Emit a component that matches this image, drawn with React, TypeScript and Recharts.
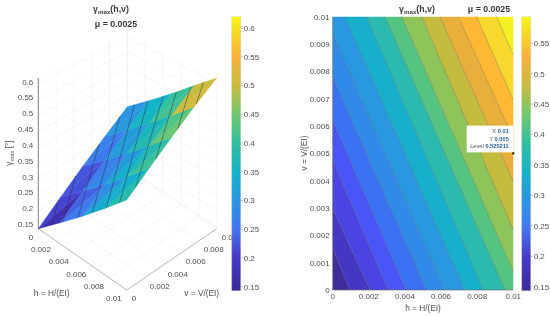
// @ts-nocheck
import { Area, Bar, BarChart, ComposedChart, Line, ReferenceDot, Scatter, XAxis, YAxis } from 'recharts';

const PARULA_FRACS = [0, 0.12, 0.224, 0.329, 0.434, 0.539, 0.644, 0.748, 0.853, 0.958, 1];
const PARULA_COLORS = ['#3a2a98', '#4638c8', '#4274f0', '#2b94e2', '#12b3c8', '#30bea0', '#70c870', '#c8bc40', '#f8b03c', '#f8e020', '#f8fa14'];

const LEFT_BAR_DOMAIN = [0.143, 0.62];
const LEFT_BAR_TICKS = [0.15, 0.2, 0.25, 0.3, 0.35, 0.4, 0.45, 0.5, 0.55, 0.6];
const RIGHT_BAR_DOMAIN = [0.1434, 0.5937];
const RIGHT_BAR_TICKS = [0.15, 0.2, 0.25, 0.3, 0.35, 0.4, 0.45, 0.5, 0.55];

const H_TICKS = [0, 0.002, 0.004, 0.006, 0.008, 0.01];
const V_TICKS = [0, 0.001, 0.002, 0.003, 0.004, 0.005, 0.006, 0.007, 0.008, 0.009, 0.01];
const Z_TICKS = [0.15, 0.2, 0.25, 0.3, 0.35, 0.4, 0.45, 0.5, 0.55, 0.6];

// contour lines of the right panel, each through (h0,v0) and (h1,v1)
const CONTOUR_H0 = [0, 0, 0, 0, 0, 0, 0.00068, 0.00188, 0.0029, 0.00382, 0.00493, 0.00594, 0.00696, 0.00797, 0.00908];
const CONTOUR_V0 = [0.00152, 0.00299, 0.00476, 0.00622, 0.0078, 0.00939, 0.01, 0.01, 0.01, 0.01, 0.01, 0.01, 0.01, 0.01, 0.01];
const CONTOUR_H1 = [0.00096, 0.00207, 0.00308, 0.00408, 0.0052, 0.0062, 0.00732, 0.00834, 0.00954, 0.01, 0.01, 0.01, 0.01, 0.01, 0.01];
const CONTOUR_V1 = [0, 0, 0, 0, 0, 0, 0, 0, 0, 0.00067, 0.0022, 0.00396, 0.00555, 0.00695, 0.0086];
const BAND_COLORS = ['#3f2d9e', '#4537c4', '#4a44e2', '#4756f5', '#3a72f4', '#2f8ae8', '#2a98e0', '#16b0cc', '#2dbaae', '#55c480', '#8ec45a', '#c5bb3e', '#e8b03a', '#fdb934', '#f7d82c', '#f5f020'];

// surface of the left panel, rows are v = 0..0.01, columns h = 0..0.01
const MESH_H = [0, 0.0025, 0.005, 0.0075, 0.01];
const MESH_V = [0, 0.0025, 0.005, 0.0075, 0.01];
const GAMMA_ROWS = [
  [0.144, 0.21, 0.275, 0.341, 0.407],
  [0.198, 0.264, 0.329, 0.395, 0.461],
  [0.253, 0.318, 0.384, 0.45, 0.515],
  [0.307, 0.373, 0.438, 0.504, 0.569],
  [0.361, 0.427, 0.492, 0.558, 0.62],
];
// flat colour value of each cell's two triangles
const LOWER_TRI_COLOR = [
  [0.17, 0.26, 0.335, 0.385],
  [0.22, 0.285, 0.345, 0.41],
  [0.26, 0.315, 0.38, 0.445],
  [0.31, 0.36, 0.415, 0.51],
];
const UPPER_TRI_COLOR = [
  [0.21, 0.235, 0.295, 0.345],
  [0.225, 0.265, 0.315, 0.38],
  [0.27, 0.315, 0.365, 0.425],
  [0.3, 0.35, 0.405, 0.5],
];
const SURF_LINE_H0 = [0, 0, 0, 0, 0.0008, 0.0023, 0.004, 0.0055, 0.0071, 0.0085];
const SURF_LINE_V0 = [0.0023, 0.0042, 0.0068, 0.0092, 0.01, 0.01, 0.01, 0.01, 0.01, 0.01];
const SURF_LINE_H1 = [0.0015, 0.0028, 0.0045, 0.0061, 0.0077, 0.0092, 0.01, 0.01, 0.01, 0.01];
const SURF_LINE_V1 = [0, 0, 0, 0, 0, 0, 0.001, 0.00325, 0.00565, 0.00775];

const FONT = '"Liberation Sans", Arial, sans-serif';
const TEXT = '#505050';
const FS = 8;

const hexToRgb = (hex: string) => [1, 3, 5].map((i) => parseInt(hex.slice(i, i + 2), 16));

function parula(frac: number) {
  const t = Math.min(1, Math.max(0, frac));
  let i = 0;
  while (i < PARULA_FRACS.length - 2 && t > PARULA_FRACS[i + 1]) i++;
  const k = (t - PARULA_FRACS[i]) / (PARULA_FRACS[i + 1] - PARULA_FRACS[i]);
  const a = hexToRgb(PARULA_COLORS[i]);
  const b = hexToRgb(PARULA_COLORS[i + 1]);
  return `rgb(${a.map((c, n) => Math.round(c + (b[n] - c) * k)).join(',')})`;
}

// 3d view of the left panel, slightly in perspective
const FLOOR_X = [38.3, 126.7, 216.7, 127.3];
const FLOOR_Y = [228.7, 290, 228.7, 170];
const DEPTH = [1, 1.08, 1, 0.92];
const Z_BASE = 0.144;
const Z_TOP = 0.62;
const Z_PX = 316.7;

function project(h: number, v: number, g: number) {
  const u = h / 0.01;
  const w = v / 0.01;
  const mix = (c: number[]) => c[0] * (1 - u) * (1 - w) + c[1] * u * (1 - w) + c[2] * u * w + c[3] * (1 - u) * w;
  return { x: mix(FLOOR_X), y: mix(FLOOR_Y) - (g - Z_BASE) * Z_PX * mix(DEPTH) };
}

function gammaAt(h: number, v: number) {
  const i = Math.min(3, Math.floor(h / 0.0025 + 1e-9));
  const j = Math.min(3, Math.floor(v / 0.0025 + 1e-9));
  const s = h / 0.0025 - i;
  const t = v / 0.0025 - j;
  return (
    GAMMA_ROWS[j][i] * (1 - s) * (1 - t) +
    GAMMA_ROWS[j][i + 1] * s * (1 - t) +
    GAMMA_ROWS[j + 1][i + 1] * s * t +
    GAMMA_ROWS[j + 1][i] * (1 - s) * t
  );
}

// one triangle as a range area: upper and lower chains over x
function triangleData(pts: { x: number; y: number }[]) {
  const [a, b, c] = [...pts].sort((p, q) => p.x - q.x);
  const k = (b.x - a.x) / (c.x - a.x);
  const mid = a.y + (c.y - a.y) * k;
  return [
    { x: a.x, range: [a.y, a.y] },
    { x: b.x, range: [b.y, mid] },
    { x: c.x, range: [c.y, c.y] },
  ];
}

const barColor = (g: number) => parula((g - LEFT_BAR_DOMAIN[0]) / (LEFT_BAR_DOMAIN[1] - LEFT_BAR_DOMAIN[0]));

const facets: { data: any[]; color: string }[] = [];
for (let j = 0; j < 4; j++) {
  for (let i = 0; i < 4; i++) {
    const p = (a: number, b: number) => project(MESH_H[a], MESH_V[b], GAMMA_ROWS[b][a]);
    facets.push({ data: triangleData([p(i, j), p(i + 1, j), p(i + 1, j + 1)]), color: barColor(LOWER_TRI_COLOR[j][i]) });
    facets.push({ data: triangleData([p(i, j), p(i + 1, j + 1), p(i, j + 1)]), color: barColor(UPPER_TRI_COLOR[j][i]) });
  }
}

const gridSegments: { x: number; y: number }[][] = [];
const seg = (a: number[], b: number[]) => gridSegments.push([project(a[0], a[1], a[2]), project(b[0], b[1], b[2])].sort((p, q) => p.x - q.x));
H_TICKS.forEach((t) => {
  seg([t, 0, Z_BASE], [t, 0.01, Z_BASE]);
  seg([0, t, Z_BASE], [0.01, t, Z_BASE]);
  seg([0, t, Z_BASE], [0, t, Z_TOP]);
  seg([t, 0.01, Z_BASE], [t, 0.01, Z_TOP]);
});
Z_TICKS.forEach((z) => {
  seg([0, 0, z], [0, 0.01, z]);
  seg([0, 0.01, z], [0.01, 0.01, z]);
});

const tickLabels = [
  ...H_TICKS.map((t) => {
    const p = project(t, 0, Z_BASE);
    return { x: p.x - 5, y: p.y + 8.3, text: String(t), anchor: 'end' };
  }),
  ...H_TICKS.map((t) => {
    const p = project(0.01, t, Z_BASE);
    return { x: p.x + 5, y: p.y + 8.3, text: String(t), anchor: 'start' };
  }),
  ...Z_TICKS.map((z) => {
    const p = project(0, 0, z);
    return { x: p.x - 5, y: p.y - 2.5, text: String(z), anchor: 'end' };
  }),
];

const TickText = ({ cx, cy, payload }: any) => (
  <text x={cx} y={cy} dy="0.35em" textAnchor={payload.anchor} fontSize={FS} fill={TEXT} fontFamily={FONT}>
    {payload.text}
  </text>
);

const panelProps = { width: 260, height: 316, margin: { top: 0, right: 0, bottom: 0, left: 0 }, style: { position: 'absolute', left: 0, top: 0 } };
const plainLine = { dataKey: 'y', dot: false, activeDot: false, isAnimationActive: false };

function BoxPanel() {
  return (
    <ComposedChart {...panelProps}>
      <XAxis dataKey="x" type="number" domain={[0, 260]} hide />
      <YAxis dataKey="y" type="number" domain={[0, 316]} reversed hide />
      {gridSegments.map((d, i) => (
        <Line key={`g${i}`} data={d} {...plainLine} stroke="#f0f0f0" strokeWidth={0.7} />
      ))}
      <Line data={[project(0, 0, Z_BASE), project(0, 0, Z_TOP)]} {...plainLine} stroke="#666" strokeWidth={0.8} />
      <Line data={[project(0, 0, Z_BASE), project(0.01, 0, Z_BASE), project(0.01, 0.01, Z_BASE)]} {...plainLine} stroke="#aaa" strokeWidth={0.8} />
      <Scatter data={tickLabels} dataKey="y" shape={TickText} isAnimationActive={false} />
    </ComposedChart>
  );
}

function SurfacePanel() {
  return (
    <ComposedChart {...panelProps}>
      <XAxis dataKey="x" type="number" domain={[0, 260]} hide />
      <YAxis dataKey="y" type="number" domain={[0, 316]} reversed hide />
      {facets.map((f, i) => (
        <Area key={`f${i}`} data={f.data} dataKey="range" type="linear" fill={f.color} fillOpacity={1} stroke={f.color} strokeWidth={0.4} dot={false} activeDot={false} isAnimationActive={false} />
      ))}
      {SURF_LINE_H0.map((h0, i) => {
        const a = project(h0, SURF_LINE_V0[i], gammaAt(h0, SURF_LINE_V0[i]));
        const b = project(SURF_LINE_H1[i], SURF_LINE_V1[i], gammaAt(SURF_LINE_H1[i], SURF_LINE_V1[i]));
        return <Line key={`c${i}`} data={[a, b].sort((p, q) => p.x - q.x)} {...plainLine} stroke="#2a2a40" strokeOpacity={0.7} strokeWidth={0.7} />;
      })}
    </ComposedChart>
  );
}

function ColorBar({ left, domain, ticks, id }: any) {
  const [lo, hi] = domain;
  return (
    <BarChart
      width={30}
      height={316}
      data={[{ name: 'gamma', range: [lo, hi] }]}
      barCategoryGap={0}
      margin={{ top: 16.7, right: 0, bottom: 25.3, left: 1.7 }}
      style={{ position: 'absolute', left, top: 0 }}
    >
      <defs>
        <linearGradient id={id} x1="0" y1="1" x2="0" y2="0">
          {PARULA_FRACS.map((f, i) => (
            <stop key={i} offset={f} stopColor={PARULA_COLORS[i]} />
          ))}
        </linearGradient>
      </defs>
      <XAxis dataKey="name" hide />
      <YAxis
        orientation="right"
        type="number"
        domain={domain}
        ticks={ticks}
        width={19.3}
        axisLine={false}
        tickLine={{ stroke: '#777', strokeWidth: 0.5 }}
        tickSize={2}
        tickMargin={1}
        tick={{ fontSize: FS, fill: TEXT, fontFamily: FONT }}
        interval={0}
      />
      <Bar dataKey="range" fill={`url(#${id})`} stroke="#c8c8a0" strokeWidth={0.4} isAnimationActive={false} />
    </BarChart>
  );
}

const bandBreaks = Array.from(new Set([0, 0.01, ...CONTOUR_H0, ...CONTOUR_H1])).sort((a, b) => a - b);
const contourAt = (i: number, h: number) => {
  const s = (CONTOUR_V1[i] - CONTOUR_V0[i]) / (CONTOUR_H1[i] - CONTOUR_H0[i]);
  return Math.min(0.01, Math.max(0, CONTOUR_V0[i] + s * (h - CONTOUR_H0[i])));
};
const bandTable = bandBreaks.map((h) => {
  const row: any = { h };
  BAND_COLORS.forEach((_, i) => {
    const low = i === 0 ? 0 : contourAt(i - 1, h);
    const high = i === BAND_COLORS.length - 1 ? 0.01 : contourAt(i, h);
    row[`b${i}`] = [low, high];
  });
  return row;
});

const DataTip = ({ cx, cy }: any) => {
  const rows = [
    ['X ', '0.01'],
    ['Y ', '0.005'],
    ['Level ', '0.525211'],
  ];
  return (
    <g fontFamily={FONT} fontSize={5.7}>
      <rect x={cx - 46.6} y={cy - 27.7} width={46.6} height={26.7} fill="#fff" />
      <rect x={cx - 1} y={cy - 1} width={2} height={2} fill="#111" />
      {rows.map((r, i) => (
        <text key={r[0]} x={cx - 4.5} y={cy - 20 + i * 7.3} textAnchor="end" fill="#555">
          {r[0]}
          <tspan fill="#23609c" fontWeight="bold">{r[1]}</tspan>
        </text>
      ))}
    </g>
  );
};

function ContourPanel() {
  const axisTick = { fontSize: FS, fill: TEXT, fontFamily: FONT };
  return (
    <ComposedChart width={250} height={316} data={bandTable} margin={{ top: 16.7, right: 11.7, bottom: 6, left: 17.7 }} style={{ position: 'absolute', left: 275, top: 0 }}>
      <XAxis dataKey="h" type="number" domain={[0, 0.01]} ticks={H_TICKS} height={20} interval={0} tick={axisTick} tickLine={false} tickSize={0} tickMargin={3} axisLine={{ stroke: '#666', strokeWidth: 0.6 }} tickFormatter={String} />
      <YAxis type="number" domain={[0, 0.01]} ticks={V_TICKS} width={40} interval={0} tick={axisTick} tickLine={false} tickSize={0} tickMargin={3} axisLine={{ stroke: '#666', strokeWidth: 0.6 }} tickFormatter={String} />
      {BAND_COLORS.map((c, i) => (
        <Area key={c} dataKey={`b${i}`} type="linear" fill={c} fillOpacity={1} stroke="none" dot={false} activeDot={false} isAnimationActive={false} />
      ))}
      {CONTOUR_H0.map((h0, i) => (
        <Line key={`l${i}`} data={[{ h: h0, v: CONTOUR_V0[i] }, { h: CONTOUR_H1[i], v: CONTOUR_V1[i] }]} dataKey="v" stroke="#3a3a3a" strokeOpacity={0.4} strokeWidth={0.7} dot={false} activeDot={false} isAnimationActive={false} />
      ))}
      <ReferenceDot x={0.01} y={0.005} r={1} ifOverflow="visible" shape={DataTip} />
    </ComposedChart>
  );
}

function Annotations() {
  const label = { fontSize: 8.3, fill: TEXT, textAnchor: 'middle' };
  const title = { fontSize: 8.8, fontWeight: 'bold', fill: '#3a3a3a', textAnchor: 'middle' };
  return (
    <svg width={550} height={316} fontFamily={FONT} style={{ position: 'absolute', left: 0, top: 0, pointerEvents: 'none' }}>
      <text x={111} y={12} {...title}>γ<tspan dy={2} fontSize="70%">max</tspan><tspan dy={-2}>(h,v)</tspan></text>
      <text x={116} y={26.7} {...title}>μ = 0.0025</text>
      <text x={51.7} y={295.5} {...label}>h = H/(EI)</text>
      <text x={201.7} y={295.5} {...label}>v = V/(EI)</text>
      <text x={0} y={0} transform="translate(12,153) rotate(-90)" {...label}>γ<tspan dy={2} fontSize="70%">max</tspan><tspan dy={-2}> [°]</tspan></text>
      <text x={417} y={12} {...title}>γ<tspan dy={2} fontSize="70%">max</tspan><tspan dy={-2}>(h,v)</tspan></text>
      <text x={489} y={12} {...title}>μ = 0.0025</text>
      <text x={423} y={310.5} {...label}>h = H/(EI)</text>
      <text x={0} y={0} transform="translate(307,153) rotate(-90)" {...label}>v = V/(EI)</text>
    </svg>
  );
}

export default function App() {
  return (
    <div style={{ position: 'absolute', left: 0, top: 0, width: 550, height: 316, background: '#fff', overflow: 'hidden', filter: 'blur(0.3px)' }}>
      <BoxPanel />
      <SurfacePanel />
      <ColorBar left={230} domain={LEFT_BAR_DOMAIN} ticks={LEFT_BAR_TICKS} id="parula-left" />
      <ContourPanel />
      <ColorBar left={520} domain={RIGHT_BAR_DOMAIN} ticks={RIGHT_BAR_TICKS} id="parula-right" />
      <Annotations />
    </div>
  );
}
